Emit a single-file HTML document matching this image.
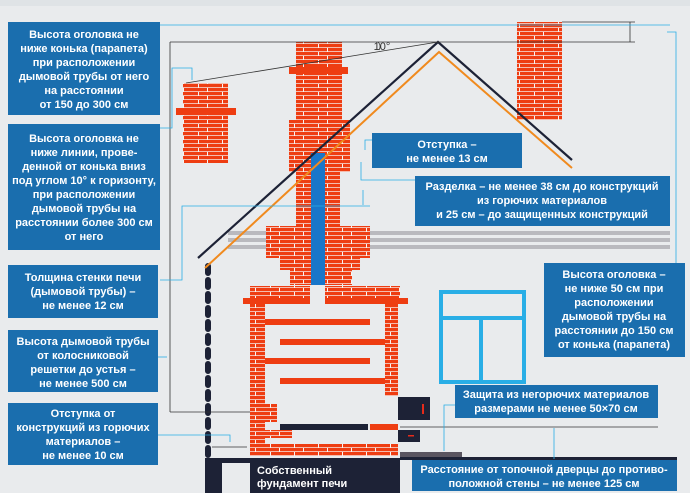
<!DOCTYPE html>
<html><head><meta charset="utf-8"><style>
html,body{margin:0;padding:0;background:#e9ebed;}
svg{display:block}
text{font-family:"Liberation Sans",sans-serif;font-weight:bold;fill:#fff;font-size:11px;text-anchor:middle}
</style></head><body>
<svg width="690" height="493" viewBox="0 0 690 493" xmlns="http://www.w3.org/2000/svg">
<defs>
<pattern id="br" width="24" height="8" patternUnits="userSpaceOnUse">
<rect width="24" height="8" fill="#f7f3f1"/>
<rect x="0" y="0" width="15" height="3.3" fill="#ee3d12"/>
<rect x="16" y="0" width="8" height="3.3" fill="#ee3d12"/>
<rect x="0" y="4" width="6" height="3.3" fill="#ee3d12"/>
<rect x="7" y="4" width="17" height="3.3" fill="#ee3d12"/>
</pattern>
</defs>
<rect width="690" height="493" fill="#e9ebed"/>
<rect x="0" y="0" width="690" height="6" fill="#dfe3e6"/>
<!-- ceiling bands -->
<g fill="#b9b9be">
<rect x="228" y="231" width="442" height="4"/><rect x="228" y="238" width="442" height="4"/><rect x="228" y="245" width="442" height="4"/>
</g>
<!-- left small chimney -->
<rect x="183" y="83" width="45" height="80" fill="url(#br)"/>
<rect x="176" y="108" width="60" height="7" fill="#ee3d12"/>
<!-- right chimney -->
<rect x="517" y="22" width="45" height="98" fill="url(#br)"/>
<!-- main chimney -->
<rect x="296" y="42" width="46" height="80" fill="url(#br)"/>
<rect x="289" y="67" width="59" height="7" fill="#ee3d12"/>
<rect x="289" y="120" width="61" height="52" fill="url(#br)"/>
<rect x="296" y="172" width="44" height="55" fill="url(#br)"/>
<polygon points="266,226 370,226 370,258 360,258 360,270 352,270 352,285 290,285 290,270 280,270 280,258 266,258" fill="url(#br)"/>
<rect x="311" y="153" width="14" height="132" fill="#1976c9"/>
<!-- stove -->
<rect x="250" y="286" width="60" height="18" fill="url(#br)"/>
<rect x="325" y="286" width="75" height="18" fill="url(#br)"/>
<rect x="243" y="298" width="67" height="6" fill="#ee3d12"/>
<rect x="325" y="298" width="83" height="6" fill="#ee3d12"/>
<rect x="250" y="304" width="15" height="146" fill="url(#br)"/>
<rect x="385" y="304" width="13" height="92" fill="url(#br)"/>
<rect x="265" y="319" width="105" height="6" fill="#ee3d12"/>
<rect x="280" y="339" width="105" height="6" fill="#ee3d12"/>
<rect x="265" y="358" width="105" height="6" fill="#ee3d12"/>
<rect x="280" y="378" width="105" height="6" fill="#ee3d12"/>
<rect x="250" y="404" width="27" height="18" fill="url(#br)"/>
<rect x="250" y="430" width="42" height="8" fill="url(#br)"/>
<rect x="250" y="444" width="148" height="12" fill="url(#br)"/>
<rect x="280" y="424" width="88" height="6" fill="#1d2236"/>
<rect x="370" y="424" width="28" height="6" fill="#ee3d12"/>
<rect x="398" y="397" width="32" height="23" fill="#1d2236"/>
<rect x="422" y="404" width="2" height="10" fill="#e52b1b"/>
<rect x="398" y="430" width="22" height="12" fill="#1d2236"/>
<rect x="408" y="435" width="6" height="1.5" fill="#e52b1b"/>
<!-- wall dashes -->
<line x1="208" y1="266" x2="208" y2="455" stroke="#1d2236" stroke-width="6" stroke-linecap="round" stroke-dasharray="7,7"/>
<!-- roof -->
<polyline points="205,268 439,52 572,168" fill="none" stroke="#f08a1e" stroke-width="2"/>
<polyline points="198,258 438,42 572,160" fill="none" stroke="#1d2236" stroke-width="2.2"/>
<!-- window -->
<rect x="441" y="292" width="83" height="90" fill="none" stroke="#29aee6" stroke-width="4"/>
<line x1="441" y1="318" x2="524" y2="318" stroke="#29aee6" stroke-width="4"/>
<line x1="481" y1="318" x2="481" y2="382" stroke="#29aee6" stroke-width="4"/>
<!-- foundation / floor -->
<rect x="205" y="458" width="195" height="35" fill="#1d2236"/>
<rect x="222" y="463" width="28" height="30" fill="#e9ebed"/>
<rect x="400" y="452" width="62" height="5" fill="#5a5560"/>
<rect x="400" y="457" width="277" height="3" fill="#1d2236"/>
<text x="297" y="474" font-size="10" style="text-anchor:start" transform="translate(-40,0)">Собственный</text>
<text x="257" y="487" font-size="10" style="text-anchor:start">фундамент печи</text>
<!-- dimension lines -->
<g stroke="#333" stroke-width="0.8" fill="none">
<line x1="170" y1="42" x2="635" y2="42"/>
<line x1="438" y1="42" x2="186" y2="83"/>
<line x1="170" y1="42" x2="170" y2="412"/>
<line x1="170" y1="412" x2="250" y2="412"/>
<line x1="562" y1="22" x2="635" y2="22"/>
<line x1="630" y1="22" x2="630" y2="42"/>
<line x1="212" y1="447" x2="247" y2="447"/>
<line x1="400" y1="427" x2="658" y2="427"/>
<path d="M378,42 a6,6 0 0 1 1,8"/>
</g>
<text x="382" y="50" font-size="8" style="fill:#333;font-weight:normal">10°</text>
<g stroke="#29aee6" stroke-width="0.8" fill="none">
<line x1="160" y1="25" x2="670" y2="25"/>
<polyline points="160,128 172,128 172,68 192,68 192,80"/>
<polyline points="160,280 182,280 182,206 370,206"/>
<line x1="158" y1="357" x2="167" y2="357"/>
<polyline points="158,435 230,435 230,442"/>
<polyline points="365,150 365,140 372,140"/>
<polyline points="361,162 361,180 415,180"/>
<polyline points="363,190 363,205"/>
<polyline points="667,32 676,32 676,263"/>
<polyline points="455,405 444,405 444,451"/>
<line x1="554" y1="428" x2="554" y2="459"/>
</g>
<!-- boxes -->
<g fill="#1a6eae">
<rect x="8" y="22" width="152" height="93"/>
<rect x="8" y="124" width="152" height="126"/>
<rect x="8" y="265" width="150" height="53"/>
<rect x="8" y="330" width="150" height="62"/>
<rect x="8" y="403" width="150" height="62"/>
<rect x="372" y="133" width="150" height="35"/>
<rect x="415" y="176" width="255" height="50"/>
<rect x="544" y="263" width="141" height="94"/>
<rect x="455" y="385" width="203" height="33"/>
<rect x="412" y="460" width="265" height="31"/>
</g>
<text x="84" y="38">Высота оголовка не</text>
<text x="84" y="52">ниже конька (парапета)</text>
<text x="84" y="66">при расположении</text>
<text x="84" y="80">дымовой трубы от него</text>
<text x="84" y="94">на расстоянии</text>
<text x="84" y="108">от 150 до 300 см</text>
<text x="84" y="142">Высота оголовка не</text>
<text x="84" y="156">ниже линии, прове-</text>
<text x="84" y="170">денной от конька вниз</text>
<text x="84" y="184">под углом 10° к горизонту,</text>
<text x="84" y="198">при расположении</text>
<text x="84" y="212">дымовой трубы на</text>
<text x="84" y="226">расстоянии более 300 см</text>
<text x="84" y="240">от него</text>
<text x="83" y="281">Толщина стенки печи</text>
<text x="83" y="295">(дымовой трубы) –</text>
<text x="83" y="309">не менее 12 см</text>
<text x="83" y="345">Высота дымовой трубы</text>
<text x="83" y="359">от колосниковой</text>
<text x="83" y="373">решетки до устья –</text>
<text x="83" y="387">не менее 500 см</text>
<text x="83" y="417">Отступка от</text>
<text x="83" y="431">конструкций из горючих</text>
<text x="83" y="445">материалов –</text>
<text x="83" y="459">не менее 10 см</text>
<text x="447" y="148">Отступка –</text>
<text x="447" y="162">не менее 13 см</text>
<text x="542" y="190">Разделка – не менее 38 см до конструкций</text>
<text x="542" y="204">из горючих материалов</text>
<text x="542" y="218">и 25 см – до защищенных конструкций</text>
<text x="614" y="278">Высота оголовка –</text>
<text x="614" y="292">не ниже 50 см при</text>
<text x="614" y="306">расположении</text>
<text x="614" y="320">дымовой трубы на</text>
<text x="614" y="334">расстоянии до 150 см</text>
<text x="614" y="348">от конька (парапета)</text>
<text x="556" y="398">Защита из негорючих материалов</text>
<text x="556" y="412">размерами не менее 50×70 см</text>
<text x="544" y="473">Расстояние от топочной дверцы до противо-</text>
<text x="544" y="487">положной стены – не менее 125 см</text>
</svg>
</body></html>
